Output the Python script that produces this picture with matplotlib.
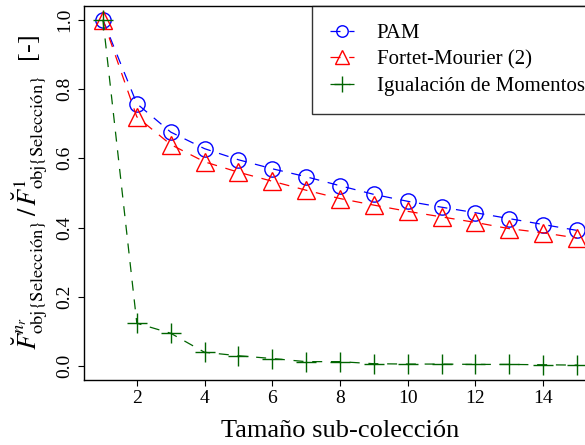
import matplotlib
matplotlib.use("Agg")
import matplotlib.pyplot as plt

plt.rcParams['font.family'] = ['Liberation Serif', 'DejaVu Serif']
plt.rcParams['mathtext.fontset'] = 'stix'

x = list(range(1, 16))
pam = [1.0, 0.758, 0.676, 0.628, 0.596, 0.570, 0.547, 0.521, 0.496, 0.476, 0.459, 0.443, 0.426, 0.409, 0.392]
fortet = [1.0, 0.720, 0.640, 0.590, 0.560, 0.534, 0.508, 0.484, 0.465, 0.447, 0.431, 0.415, 0.397, 0.385, 0.370]
iguala = [1.0, 0.124, 0.095, 0.040, 0.030, 0.022, 0.013, 0.013, 0.007, 0.006, 0.006, 0.005, 0.005, 0.004, 0.003]
labels = ["PAM", "Fortet-Mourier (2)", "Igualación de Momentos"]
xticks = [2, 4, 6, 8, 10, 12, 14]
yticks = [0.0, 0.2, 0.4, 0.6, 0.8, 1.0]

W, H = 585, 445
fig = plt.figure(figsize=(W / 100, H / 100), dpi=100)
left, right, top, bottom = 84, 596, 6, 380
ax = fig.add_axes([left / W, 1 - bottom / H, (right - left) / W, (bottom - top) / H])

dash = (0, (8, 7))
ax.plot(x, pam, color='blue', linestyle=dash, linewidth=0.9, marker='o', markersize=11,
        markerfacecolor='none', markeredgecolor='blue', markeredgewidth=1.0, label=labels[0])
ax.plot(x, fortet, color='red', linestyle=dash, linewidth=0.9, marker='^', markersize=13,
        markerfacecolor='none', markeredgecolor='red', markeredgewidth=1.0, label=labels[1])
ax.plot(x, iguala, color='darkgreen', linestyle=dash, linewidth=0.9, marker='+', markersize=15,
        markeredgecolor='darkgreen', markeredgewidth=1.0, label=labels[2])

ax.set_xlim(0.44, 15.56)
ax.set_ylim(-0.04, 1.04)
ax.set_xticks(xticks)
ax.set_yticks(yticks)
ax.set_yticklabels([f"{v:.1f}" for v in yticks], rotation=90, va='center')
ax.tick_params(labelsize=14, length=4.5, width=0.8, pad=3)
for s in ax.spines.values():
    s.set_linewidth(1.0)

ax.set_xlabel("Tamaño sub-colección", fontsize=19, labelpad=9)
ax.set_ylabel(r"$\breve{F}^{n_r}_{\mathrm{obj}\{\mathrm{Selección}\}}\,/\,\breve{F}^{1}_{\mathrm{obj}\{\mathrm{Selección}\}}$  [-]",
              fontsize=19, labelpad=5)

leg = ax.legend(loc='upper left', bbox_to_anchor=(312 / W, 1 - 6 / H), bbox_transform=fig.transFigure,
                fontsize=15, frameon=True, fancybox=False, edgecolor='black', borderaxespad=0,
                handlelength=1.15, borderpad=0.85, labelspacing=0.33, handletextpad=1.1,
                markerscale=0.75)
leg.get_frame().set_linewidth(1.0)

fig.savefig("out.png", dpi=100)
